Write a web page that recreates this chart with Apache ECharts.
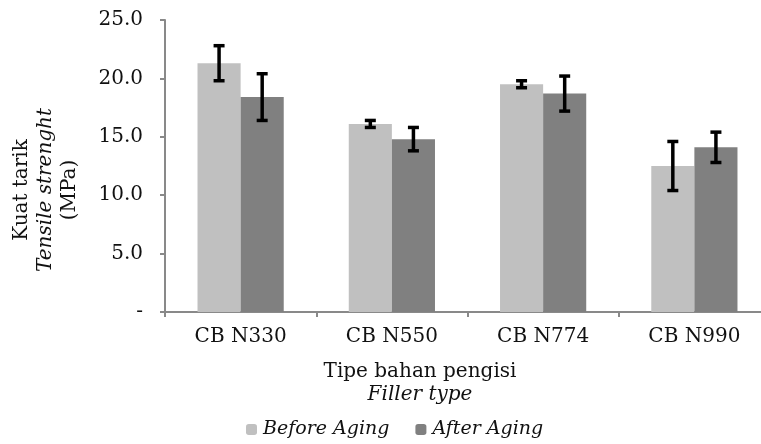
<!DOCTYPE html>
<html>
<head>
<meta charset="utf-8">
<script src="https://cdn.jsdelivr.net/npm/echarts@6/dist/echarts.min.js"></script>
<style>
  html, body { margin: 0; padding: 0; background: #fff; }
  #main { width: 761px; height: 444px; }
</style>
</head>
<body>
<div id="main"></div>
<script>
var categories = ['CB N330', 'CB N550', 'CB N774', 'CB N990'];
var beforeAging = [21.3, 16.1, 19.5, 12.5];
var afterAging = [18.4, 14.8, 18.7, 14.1];
var beforeErr = [1.5, 0.3, 0.3, 2.1];
var afterErr = [2.0, 1.0, 1.5, 1.3];
var yTicks = [0, 5, 10, 15, 20, 25];

var FONT = 'DejaVu Serif';
var GAP = 0.43;

var myChart = echarts.init(document.getElementById('main'));

// 误差线 (custom series)
function errorSeries(name, values, errs, side) {
    var data = values.map(function (v, i) {
        return [i, v - errs[i], v + errs[i]];
    });
    return {
        name: name + ' err',
        type: 'custom',
        z: 10,
        silent: true,
        data: data,
        renderItem: function (params, api) {
            var idx = api.value(0);
            var lo = api.coord([idx, api.value(1)]);
            var hi = api.coord([idx, api.value(2)]);
            var catW = api.size([1, 0])[0];
            var barW = catW * (1 - GAP) / 2;
            var x = lo[0] + side * barW / 2;
            var cap = 5.5;
            var st = { stroke: '#000', lineWidth: 3.5 };
            return {
                type: 'group',
                children: [
                    { type: 'line', shape: { x1: x, y1: hi[1], x2: x, y2: lo[1] }, style: st },
                    { type: 'line', shape: { x1: x - cap, y1: hi[1], x2: x + cap, y2: hi[1] }, style: st },
                    { type: 'line', shape: { x1: x - cap, y1: lo[1], x2: x + cap, y2: lo[1] }, style: st }
                ]
            };
        }
    };
}

// 竖排的 y 轴标题
function yTitle(text, x, italic) {
    return {
        type: 'text',
        x: x,
        y: 190,
        rotation: Math.PI / 2,
        style: {
            text: text,
            align: 'center',
            verticalAlign: 'middle',
            fontFamily: FONT,
            fontSize: 20,
            fontStyle: italic ? 'italic' : 'normal',
            fill: '#111'
        }
    };
}

var option = {
    animation: false,
    textStyle: { fontFamily: FONT },
    grid: { left: 165, top: 20, bottom: 132, right: -9, outerBoundsMode: 'none', containLabel: false },
    legend: {
        top: 420,
        left: 246,
        padding: 0,
        itemWidth: 11,
        itemHeight: 11,
        itemGap: 26,
        data: ['Before Aging', 'After Aging'],
        textStyle: { fontFamily: FONT, fontStyle: 'italic', fontSize: 19, color: '#111', padding: [0, 0, 0, 1] }
    },
    graphic: [{
        type: 'text',
        x: 420,
        y: 372,
        style: {
            text: 'Tipe bahan pengisi',
            align: 'center',
            verticalAlign: 'middle',
            fontFamily: FONT,
            fontSize: 20,
            fill: '#111'
        }
    }, {
        type: 'text',
        x: 420,
        y: 395,
        style: {
            text: 'Filler type',
            align: 'center',
            verticalAlign: 'middle',
            fontFamily: FONT,
            fontSize: 20,
            fontStyle: 'italic',
            fill: '#111'
        }
    },
        yTitle('Kuat tarik', 22, false),
        yTitle('Tensile strenght', 46, true),
        yTitle('(MPa)', 70, false)
    ],
    xAxis: {
        type: 'category',
        data: categories,
        axisLine: { lineStyle: { color: '#898989', width: 2 } },
        axisTick: { show: true, length: 5, lineStyle: { color: '#898989', width: 2 } },
        axisLabel: { color: '#111', fontFamily: FONT, fontSize: 20, margin: 15 },
        splitLine: { show: false }
    },
    yAxis: {
        type: 'value',
        min: yTicks[0],
        max: yTicks[yTicks.length - 1],
        interval: 5,
        axisLine: { show: true, lineStyle: { color: '#898989', width: 2 } },
        axisTick: { show: true, length: 5, lineStyle: { color: '#898989', width: 2 } },
        axisLabel: {
            color: '#111',
            fontFamily: FONT,
            fontSize: 20,
            margin: 22,
            formatter: function (v) { return v === 0 ? '-' : v.toFixed(1); }
        },
        splitLine: { show: false }
    },
    series: [{
        name: 'Before Aging',
        type: 'bar',
        data: beforeAging,
        barGap: '0%',
        barCategoryGap: (GAP * 100) + '%',
        itemStyle: { color: '#c0c0c0' }
    }, {
        name: 'After Aging',
        type: 'bar',
        data: afterAging,
        itemStyle: { color: '#808080' }
    },
        errorSeries('Before Aging', beforeAging, beforeErr, -1),
        errorSeries('After Aging', afterAging, afterErr, 1)
    ]
};

myChart.setOption(option);
</script>
</body>
</html>
